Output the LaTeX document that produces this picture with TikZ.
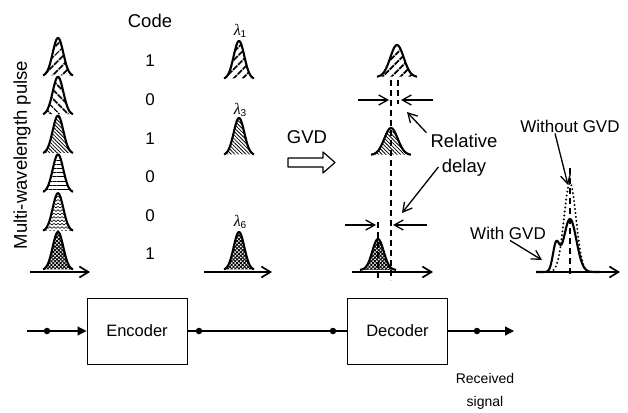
\documentclass[tikz,border=0pt]{standalone}
\usepackage{fontspec}
\setmainfont{Liberation Sans}
\newfontfamily\lamfont{Liberation Serif}
\usepackage{tikz}
\usetikzlibrary{arrows.meta,patterns.meta,positioning}
\tikzdeclarepattern{
  name=gv waves,
  type=uncolored,
  bounding box={(-0.2pt,-0.5pt) and (4.2pt,2.5pt)},
  tile size={(4pt,3.4pt)},
  code={\draw[line width=0.6pt] (0pt,0pt) -- (2pt,1.7pt) -- (4pt,0pt);}
}
\newcommand\gvlam[1]{{\lamfont\itshape λ}\raisebox{-2.5pt}{\fontsize{10}{10}\selectfont #1}}
\tikzset{
  gv diagram/.style={x=1pt,y=-1pt,line join=round},
  gv text/.style={font=\fontsize{17}{20}\selectfont, inner sep=1pt},
  gv big/.style={font=\fontsize{18.5}{25}\selectfont, inner sep=1pt},
  gv small/.style={font=\fontsize{14}{23}\selectfont, inner sep=1pt, align=center},
  gv lam/.style={font=\fontsize{16}{18}\selectfont, inner sep=0pt},
  gv pulse/.style={draw=black, line width=2.1pt},
  gv fill/.is choice,
  gv fill/1/.style={pattern={Lines[angle=45,distance=6.5pt,line width=2pt]}},
  gv fill/2/.style={pattern={Lines[angle=-45,distance=6.5pt,line width=2pt]}},
  gv fill/3/.style={pattern={Lines[angle=-45,distance=2.6pt,line width=0.8pt]}},
  gv fill/4/.style={pattern={Lines[angle=0,distance=4.2pt,line width=0.9pt]}},
  gv fill/5/.style={pattern=gv waves},
  gv fill/6/.style={pattern={Hatch[angle=45,distance=2.6pt,line width=0.9pt]}},
  gv axis/.style={-{Straight Barb[length=9pt,width=11pt]}, line width=1.7pt},
  gv arrow/.style={-{Straight Barb[length=9pt,width=10pt]}, line width=1.3pt},
  gv guide/.style={line width=1.4pt, dash pattern=on 6pt off 4pt},
  gv block/.style={draw, line width=1pt, minimum width=100pt, minimum height=66pt,
    font=\fontsize{16.5}{20}\selectfont},
  gv line/.style={line width=1.2pt},
  gv flow/.style={gv line, -{Triangle[length=9pt,width=9pt]}},
  gv dot/.style={circle, fill, inner sep=0pt, minimum size=6.5pt}
}
\begin{document}
\begin{tikzpicture}[gv diagram]
\useasboundingbox (0,0) rectangle (628,412);
% input pulse train and code word
\foreach \i in {1,...,6}
  \draw[gv pulse,gv fill=\i] plot[domain=-15:15,samples=50]
    ({58+\x},{76+38.8*(\i-1)-38*exp(-(\x/7.5)^2)});
\draw[gv axis] (30,272) -- (90,272);
\node[gv big,rotate=90] (mwp) at (22,155) {Multi-wavelength pulse};
\node[gv big] (code) at (150,21) {Code};
\foreach \d [count=\i] in {1,0,1,0,0,1}
  \node[gv text] (bit\i) at (150,{61+38.6*(\i-1)}) {\d};
% encoded wavelengths
\draw[gv pulse,gv fill=1] plot[domain=-15:15,samples=50] ({239+\x},{79-38*exp(-(\x/7.5)^2)});
\draw[gv pulse,gv fill=3] plot[domain=-15:15,samples=50] ({239+\x},{155-37*exp(-(\x/7.5)^2)});
\draw[gv pulse,gv fill=6] plot[domain=-15:15,samples=50] ({239+\x},{270-38*exp(-(\x/7.5)^2)});
\draw[gv axis] (204,272) -- (272,272);
\node[gv lam] (lam1) at (240,31) {\gvlam{1}};
\node[gv lam] (lam3) at (240,110) {\gvlam{3}};
\node[gv lam] (lam6) at (240,222) {\gvlam{6}};
\node[gv big] (gvd) at (307,137) {GVD};
\draw[line width=1.2pt] (288,158) -- (323,158) -- (323,152) -- (335,162.5)
  -- (323,173) -- (323,167) -- (288,167) -- cycle;
% dispersed pulses
\draw[gv pulse,gv fill=1] plot[domain=-20:20,samples=60] ({397+\x},{77-32*exp(-(\x/9.5)^2)});
\draw[gv pulse,gv fill=3] plot[domain=-20:20,samples=60] ({391+\x},{155-27*exp(-(\x/9.5)^2)});
\draw[gv pulse,gv fill=6] plot[domain=-18:18,samples=60] ({378+\x},{270-31*exp(-(\x/8)^2)});
\draw[gv axis] (352,272) -- (433,272);
\draw[gv guide] (398,80) -- (398,104);
\draw[gv guide] (391,80) -- (391,280);
\draw[gv guide] (378,222) -- (378,280);
\draw[gv arrow] (358,100) -- (389,100);
\draw[gv arrow] (433,100) -- (401,100);
\draw[gv arrow] (345,225) -- (376,225);
\draw[gv arrow] (427,225) -- (393,225);
\node[gv big,align=center] (rel) at (464,155) {Relative\\delay};
\coordinate (rel top) at (407,112);
\coordinate (rel bot) at (402,213);
\draw[gv arrow] ([xshift=-3pt]rel.north west) -- (rel top);
\draw[gv arrow] ([shift={(9pt,-12pt)}]rel.west) -- (rel bot);
% received signal
\draw[line width=2.2pt,line cap=round,dash pattern=on 0pt off 4pt]
  plot[domain=-20:20,samples=60] ({570+\x},{272-89*exp(-(\x/8.5)^2)});
\draw[gv pulse] plot[domain=-34:30,samples=90]
  ({570+\x},{272-53*exp(-(\x/9)^2)-26*exp(-((\x+14)/4.5)^2)});
\draw[gv guide,line width=1.1pt] (570,168) -- (570,278);
\draw[gv axis] (537,272) -- (620,272);
\node[gv text] (wo) at (570,126) {Without GVD};
\node[gv text] (wg) at (508,233) {With GVD};
\coordinate (wo tip) at (568,185);
\coordinate (wg tip) at (542,260);
\draw[gv arrow] ([xshift=-15pt]wo.south) -- (wo tip);
\draw[gv arrow] ([xshift=2pt]wg.south) -- (wg tip);
% link
\coordinate (in) at (27,331);
\coordinate (out) at (514,331);
\node[gv block] (enc) at (137,331) {Encoder};
\node[gv block] (dec) at (397.5,331) {Decoder};
\draw[gv flow] (in) -- (enc);
\draw[gv line] (enc) -- (dec);
\draw[gv flow] (dec) -- (out);
\foreach \p [count=\i] in {47,199,333,477}
  \node[gv dot] (dot\i) at (\p,331) {};
\node[gv small] (rx) at (485,391) {Received\\signal};
\end{tikzpicture}
\end{document}
